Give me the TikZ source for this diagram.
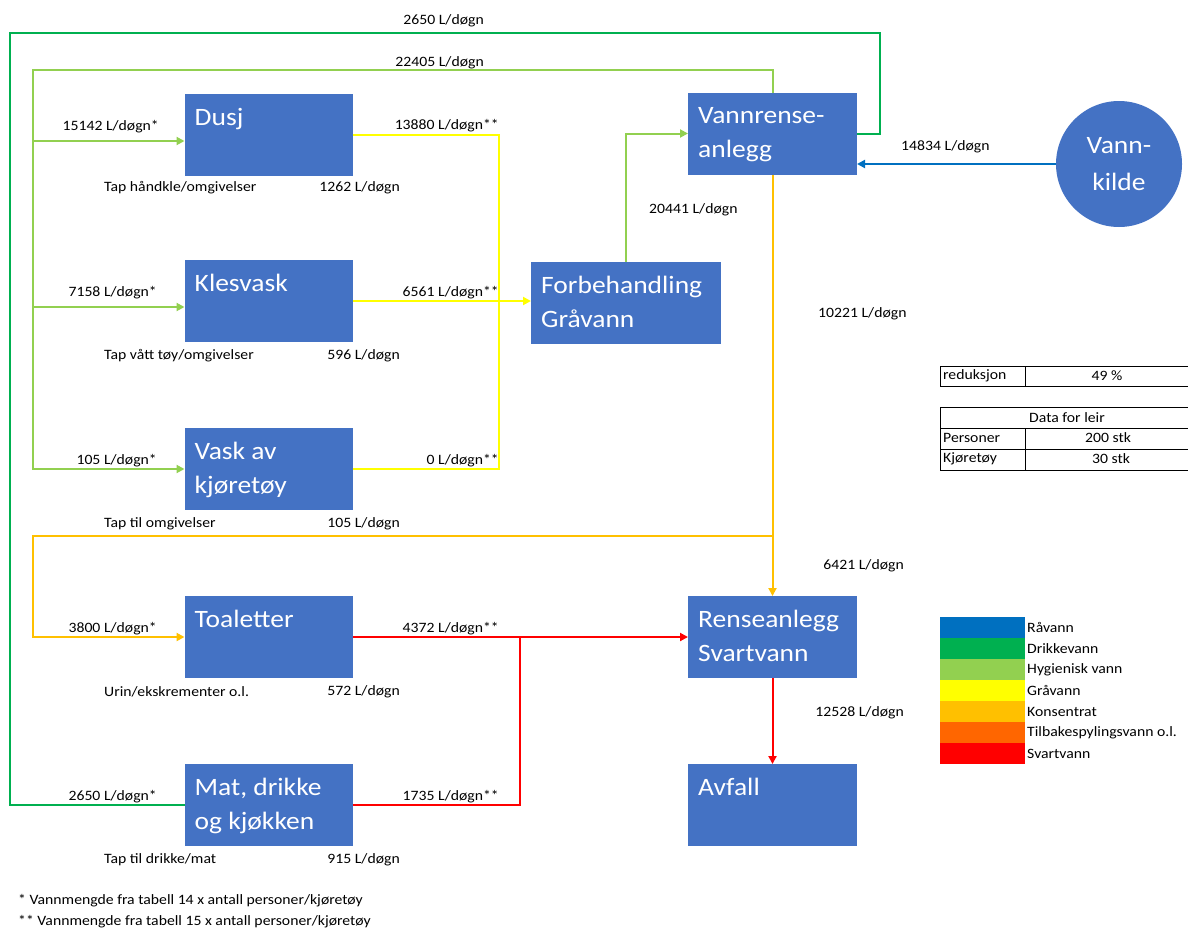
\documentclass[tikz,border=0pt]{standalone}
\usepackage{fontspec}
\setmainfont{Carlito}[FakeStretch=1.1]
\usetikzlibrary{positioning,arrows.meta}

\definecolor{boksblaa}{HTML}{4472C4}
\definecolor{raavann}{HTML}{0070C0}
\definecolor{drikkevann}{HTML}{00B050}
\definecolor{hygienisk}{HTML}{92D050}
\definecolor{graavann}{HTML}{FFFF00}
\definecolor{konsentrat}{HTML}{FFC000}
\definecolor{tilbakespyl}{HTML}{FF6600}
\definecolor{svartvann}{HTML}{FF0000}

\begin{document}
\begin{tikzpicture}[x=1pt,y=-1pt,
  enhet/.style={rectangle, fill=boksblaa, minimum width=168pt, minimum height=82pt,
    inner sep=0pt, outer sep=0pt},
  enhettekst/.style={anchor=north west, inner sep=0pt, text=white, align=left,
    font=\fontsize{25}{34}\selectfont, xshift=10pt, yshift=-7pt},
  kildesirkel/.style={circle, fill=boksblaa, minimum size=126pt, inner sep=0pt, outer sep=0pt,
    text=white, align=center, font=\fontsize{25}{37}\selectfont},
  mengde/.style={inner sep=0pt, font=\fontsize{14.3}{17}\selectfont},
  strom/.style={line width=2pt},
  pil/.style={-{Triangle[length=8pt,width=8pt]}},
  tabell/.style={line width=1pt}]
\useasboundingbox (0,0) rectangle (1188,929);

% enheter
\node[enhet] (dusj) at (268.5,135) {};
\node[enhet, below=84pt of dusj] (klesvask) {};
\node[enhet, below=86pt of klesvask] (vask) {};
\node[enhet, below=86pt of vask] (toalett) {};
\node[enhet, below=86pt of toalett] (mat) {};
\node[enhet, minimum width=190pt] (forbeh) at (626,303) {};
\node[enhet, minimum width=169pt] (vannrense) at (772.5,133.5) {};
\node[enhet, minimum width=169pt] (rense) at (772.5,637) {};
\node[enhet, minimum width=169pt] (avfall) at (772.5,805) {};
\node[kildesirkel] (kilde) at (1119,164) {Vann-\\kilde};

\node[enhettekst] (dusj-t) at (dusj.north west) {\strut Dusj};
\node[enhettekst] (klesvask-t) at (klesvask.north west) {\strut Klesvask};
\node[enhettekst] (vask-t) at (vask.north west) {\strut Vask av\\kjøretøy};
\node[enhettekst] (toalett-t) at (toalett.north west) {\strut Toaletter};
\node[enhettekst] (mat-t) at (mat.north west) {\strut Mat, drikke\\og kjøkken};
\node[enhettekst] (forbeh-t) at (forbeh.north west) {\strut Forbehandling\\Gråvann};
\node[enhettekst] (vannrense-t) at (vannrense.north west) {\strut Vannrense-\\anlegg};
\node[enhettekst] (rense-t) at (rense.north west) {\strut Renseanlegg\\Svartvann};
\node[enhettekst] (avfall-t) at (avfall.north west) {\strut Avfall};

\coordinate (ytre) at (10,33);
\coordinate (indre) at (33,70);
\coordinate (graa) at (499,0);
\coordinate (svartgren) at (520,0);
\coordinate (konsgren) at (0,536);
\coordinate (dusj-inn) at ([yshift=-6pt]dusj.west);
\coordinate (klesvask-inn) at ([yshift=-6pt]klesvask.west);

% drikkevann
\draw[strom, drikkevann] (vannrense.east) -- ++(23,0) |- (ytre) |- (mat.west);
% hygienisk vann
\draw[strom, hygienisk, pil] (vannrense.north) |- (indre) |- (vask.west);
\draw[strom, hygienisk, pil] (indre |- dusj-inn) -- (dusj-inn);
\draw[strom, hygienisk, pil] (indre |- klesvask-inn) -- (klesvask-inn);
\draw[strom, hygienisk, pil] (forbeh.north) |- (vannrense.west);
% gråvann
\draw[strom, graavann] (dusj.east) -| (graa |- vask.east) -- (vask.east);
\draw[strom, graavann, pil] (klesvask.east) -- (forbeh.west |- klesvask.east);
% råvann
\draw[strom, raavann, pil] (kilde.west) -- (kilde.west -| vannrense.east);
% konsentrat
\draw[strom, konsentrat, pil] (vannrense.south) -- (rense.north);
\draw[strom, konsentrat, pil] (vannrense.south |- konsgren) -| (indre |- toalett.west) -- (toalett.west);
% svartvann
\draw[strom, svartvann, pil] (toalett.east) -- (rense.west);
\draw[strom, svartvann] (mat.east) -| (svartgren |- toalett.east);
\draw[strom, svartvann, pil] (rense.south) -- (avfall.north);

% mengder
\node[mengde, anchor=east] (m-drikke) at (484,21) {2650 L/døgn};
\node[mengde, anchor=east] (m-hyg) at (484,63) {22405 L/døgn};
\node[mengde, anchor=east] (inn-dusj) at (159,127) {15142 L/døgn*};
\node[mengde, anchor=east] (inn-klesvask) at (157,293) {7158 L/døgn*};
\node[mengde, anchor=east] (inn-vask) at (157,461) {105 L/døgn*};
\node[mengde, anchor=east] (inn-toalett) at (157,629) {3800 L/døgn*};
\node[mengde, anchor=east] (inn-mat) at (157,797) {2650 L/døgn*};
\node[mengde, anchor=east] (ut-dusj) at (499,126) {13880 L/døgn**};
\node[mengde, anchor=east] (ut-klesvask) at (499,293) {6561 L/døgn**};
\node[mengde, anchor=east] (ut-vask) at (499,461) {0 L/døgn**};
\node[mengde, anchor=east] (ut-toalett) at (499,629) {4372 L/døgn**};
\node[mengde, anchor=east] (ut-mat) at (499,797) {1735 L/døgn**};
\node[mengde, anchor=west] (tap-dusj) at (104,188) {Tap håndkle/omgivelser};
\node[mengde, anchor=east] (tapm-dusj) at (400,188) {1262 L/døgn};
\node[mengde, anchor=west] (tap-klesvask) at (104,356) {Tap vått tøy/omgivelser};
\node[mengde, anchor=east] (tapm-klesvask) at (400,356) {596 L/døgn};
\node[mengde, anchor=west] (tap-vask) at (104,524) {Tap til omgivelser};
\node[mengde, anchor=east] (tapm-vask) at (400,524) {105 L/døgn};
\node[mengde, anchor=west] (tap-toalett) at (104,692) {Urin/ekskrementer o.l.};
\node[mengde, anchor=east] (tapm-toalett) at (400,692) {572 L/døgn};
\node[mengde, anchor=west] (tap-mat) at (104,860) {Tap til drikke/mat};
\node[mengde, anchor=east] (tapm-mat) at (400,860) {915 L/døgn};
\node[mengde, anchor=west] (m-forbeh) at (649,210) {20441 L/døgn};
\node[mengde, anchor=west] (m-kilde) at (901,147) {14834 L/døgn};
\node[mengde, anchor=west] (m-kons) at (818,314) {10221 L/døgn};
\node[mengde, anchor=east] (m-rense) at (904,566) {6421 L/døgn};
\node[mengde, anchor=east] (m-avfall) at (904,713) {12528 L/døgn};

\node[mengde, anchor=west] (fotnote1) at (18,901) {* Vannmengde fra tabell 14 x antall personer/kjøretøy};
\node[mengde, anchor=west] (fotnote2) at (18,922) {** Vannmengde fra tabell 15 x antall personer/kjøretøy};

% tabeller
\draw[tabell] (1190,366) -- (940,366) -- (940,386) -- (1190,386);
\draw[tabell] (1025,366) -- (1025,386);
\draw[tabell] (1190,407) -- (940,407) -- (940,470) -- (1190,470);
\draw[tabell] (940,428) -- (1190,428) (940,449) -- (1190,449);
\draw[tabell] (1025,428) -- (1025,470);
\node[mengde, anchor=west] (reduksjon) at (943,376) {reduksjon};
\node[mengde] (reduksjon-v) at (1107,376) {49 \%};
\node[mengde] (leir) at (1067,418) {Data for leir};
\node[mengde, anchor=west] (personer) at (943,438) {Personer};
\node[mengde] (personer-v) at (1108,438) {200 stk};
\node[mengde, anchor=west] (kjoretoy) at (943,459) {Kjøretøy};
\node[mengde] (kjoretoy-v) at (1111,459) {30 stk};

% fargeforklaring
\foreach \farge/\navn [count=\i] in {raavann/Råvann, drikkevann/Drikkevann,
    hygienisk/Hygienisk vann, graavann/Gråvann, konsentrat/Konsentrat,
    tilbakespyl/Tilbakespylingsvann o.l., svartvann/Svartvann} {
  \fill[\farge] (940,{617+21*(\i-1)}) rectangle ++(85,21);
  \node[mengde, anchor=west] (forkl-\i) at (1027,{627.5+21*(\i-1)}) {\navn};
}
\end{tikzpicture}
\end{document}
